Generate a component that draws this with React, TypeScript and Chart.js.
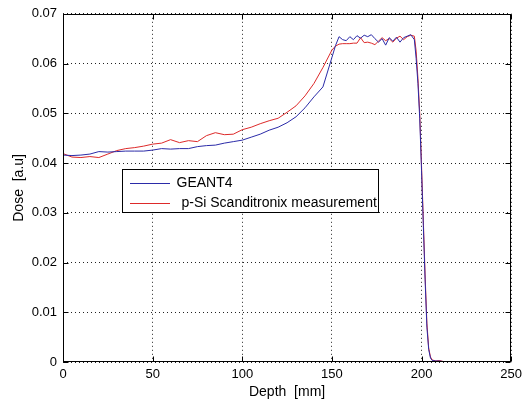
import React, { useEffect, useRef } from 'react';
import { Chart, registerables } from 'chart.js';

Chart.register(...registerables);

// ---- data ----
const depthMm = [
  0, 5, 10, 15, 20, 25, 30, 35, 40, 45, 50, 55, 60, 65, 70, 75, 80, 85, 90, 95, 100,
  105, 110, 115, 120, 125, 130, 135, 140, 145, 150,
  152, 154, 156, 158, 160, 162, 164, 166, 168, 170, 172, 174, 176, 178, 180, 182, 184, 186, 188, 190, 192, 194, 196,
  197, 198, 199, 200, 201, 202, 203, 204, 205, 206,
  208, 210, 212, 215, 220, 230, 240, 250,
];

const geant4Dose = [
  0.0416, 0.0415, 0.0416, 0.0418, 0.0423, 0.0422, 0.0423, 0.0424, 0.0424, 0.0424, 0.0426,
  0.0429, 0.0428, 0.0429, 0.0429, 0.0433, 0.0435, 0.0436, 0.0440, 0.0443, 0.0446,
  0.0452, 0.0458, 0.0466, 0.0472, 0.0481, 0.0493, 0.0511, 0.0533, 0.0553, 0.0612,
  0.0636, 0.0654, 0.0648, 0.0646, 0.0654, 0.0648, 0.0656, 0.0651, 0.0657, 0.0654, 0.0658, 0.0650,
  0.0643, 0.0650, 0.0637, 0.0652, 0.0645, 0.0653, 0.0643, 0.0652, 0.0655, 0.0658, 0.0648,
  0.0610, 0.0560, 0.0490, 0.0385, 0.0275, 0.0165, 0.0070, 0.0025, 0.0008, 0.0003,
  0.0002, 0.0002, 0.0001, 0.0001, 0.0, 0.0, 0.0, 0.0,
];

const scanditronixDose = [
  0.0419, 0.0412, 0.0411, 0.0413, 0.0411, 0.0418, 0.0425, 0.0429, 0.0431, 0.0434, 0.0438,
  0.0440, 0.0447, 0.0441, 0.0445, 0.0443, 0.0455, 0.0461, 0.0457, 0.0458, 0.0467,
  0.0472, 0.0479, 0.0485, 0.0490, 0.0502, 0.0515, 0.0535, 0.0560, 0.0592, 0.0627,
  0.0635, 0.0639, 0.0640, 0.0640, 0.0640, 0.0641, 0.0641, 0.0652, 0.0642, 0.0643, 0.0641, 0.0638,
  0.0645, 0.0652, 0.0646, 0.0650, 0.0643, 0.0651, 0.0655, 0.0648, 0.0654, 0.0657, 0.0655,
  0.0625, 0.0570, 0.0500, 0.0395, 0.0285, 0.0175, 0.0078, 0.0028, 0.0010, 0.0004,
  0.0002, 0.0003, 0.0001, 0.0, 0.0, 0.0, 0.0, 0.0,
];

const seriesLabels = ['GEANT4', 'p-Si Scanditronix measurement'];
const seriesColors = ['#2b2ba8', '#dd2a2a'];
const xTicks = [0, 50, 100, 150, 200, 250];
const yTicks = [0, 0.01, 0.02, 0.03, 0.04, 0.05, 0.06, 0.07];
const xTitle = 'Depth  [mm]';
const yTitle = 'Dose  [a.u]';

const FONT = "'Liberation Sans', Arial, Helvetica, sans-serif";

const framePlugin = {
  id: 'matlabFrame',
  afterDatasetsDraw(chart: any) {
    const { ctx, chartArea: a, scales } = chart;
    const L = Math.round(a.left) + 0.5;
    const R = Math.round(a.right) - 0.5;
    const T = Math.round(a.top) + 0.5;
    const B = Math.round(a.bottom) - 0.5;
    ctx.save();
    ctx.setLineDash([]);
    ctx.strokeStyle = '#000';
    ctx.lineWidth = 1;
    ctx.strokeRect(L, T, R - L, B - T);
    const tl = 5;
    ctx.beginPath();
    xTicks.forEach((v) => {
      const px = Math.round(scales.x.getPixelForValue(v)) + 0.5;
      ctx.moveTo(px, B); ctx.lineTo(px, B - tl);
      ctx.moveTo(px, T); ctx.lineTo(px, T + tl);
    });
    yTicks.forEach((v) => {
      const py = Math.round(scales.y.getPixelForValue(v)) + 0.5;
      ctx.moveTo(L, py); ctx.lineTo(L + tl, py);
      ctx.moveTo(R, py); ctx.lineTo(R - tl, py);
    });
    ctx.stroke();

    // legend box (MATLAB style, inside axes)
    const bx = Math.round(a.left) + 59.5;
    const by = Math.round(a.top) + 155.5;
    const bw = 256;
    const bh = 43;
    ctx.fillStyle = '#fff';
    ctx.fillRect(bx, by, bw, bh);
    ctx.strokeStyle = '#000';
    ctx.strokeRect(bx, by, bw, bh);
    const rowY = [Math.round(by + 13), Math.round(by + 33)];
    const textDx = [54, 59];
    ctx.font = `14px ${FONT}`;
    ctx.textBaseline = 'middle';
    ctx.textAlign = 'left';
    for (let i = 0; i < seriesLabels.length; i++) {
      ctx.fillStyle = seriesColors[i];
      ctx.fillRect(Math.round(bx) + 7, rowY[i], 40, 1);
      ctx.fillStyle = '#000';
      ctx.fillText(seriesLabels[i], bx + textDx[i], rowY[i]);
    }
    ctx.restore();
  },
};

export default function App() {
  const ref = useRef<HTMLCanvasElement | null>(null);

  useEffect(() => {
    if (!ref.current) return;
    const mk = (ys: number[]) => depthMm.map((x, i) => ({ x, y: ys[i] }));
    const chart = new Chart(ref.current, {
      type: 'line',
      data: {
        datasets: [
          {
            label: seriesLabels[0],
            data: mk(geant4Dose),
            borderColor: seriesColors[0],
            borderWidth: 1,
            pointRadius: 0,
            tension: 0,
          },
          {
            label: seriesLabels[1],
            data: mk(scanditronixDose),
            borderColor: seriesColors[1],
            borderWidth: 1,
            pointRadius: 0,
            tension: 0,
          },
        ],
      },
      options: {
        animation: false,
        responsive: false,
        devicePixelRatio: 1,
        layout: { padding: { top: 13, right: 12, bottom: 0, left: 0 } },
        plugins: { legend: { display: false }, tooltip: { enabled: false } },
        scales: {
          x: {
            type: 'linear',
            min: 0,
            max: 250,
            afterBuildTicks: (s: any) => { s.ticks = xTicks.map((v) => ({ value: v })); },
            afterFit: (s: any) => { s.height = 41; },
            ticks: {
              color: '#000',
              font: { family: FONT, size: 13 },
              padding: 5,
              maxRotation: 0,
              callback: (v: any) => String(v),
            },
            grid: { color: '#222', lineWidth: 1, drawTicks: false },
            border: { display: false, dash: [1, 3] },
            title: {
              display: true,
              text: xTitle,
              color: '#000',
              font: { family: FONT, size: 14 },
              padding: { top: 0, bottom: 2 },
            },
          },
          y: {
            type: 'linear',
            min: 0,
            max: 0.07,
            afterBuildTicks: (s: any) => { s.ticks = yTicks.map((v) => ({ value: v })); },
            afterFit: (s: any) => { s.width = 63; },
            ticks: {
              color: '#000',
              font: { family: FONT, size: 13 },
              padding: 6,
              callback: (v: any) => (v === 0 ? '0' : String(Math.round(Number(v) * 100) / 100)),
            },
            grid: { color: '#222', lineWidth: 1, drawTicks: false },
            border: { display: false, dash: [1, 3] },
            title: {
              display: true,
              text: yTitle,
              color: '#000',
              font: { family: FONT, size: 14 },
              padding: { top: 11, bottom: 0 },
            },
          },
        },
      },
      plugins: [framePlugin],
    });
    return () => chart.destroy();
  }, []);

  return (
    <div style={{ position: 'fixed', left: 0, top: 0, width: 527, height: 403, background: '#fff' }}>
      <canvas ref={ref} width={527} height={403} style={{ display: 'block' }} />
    </div>
  );
}
